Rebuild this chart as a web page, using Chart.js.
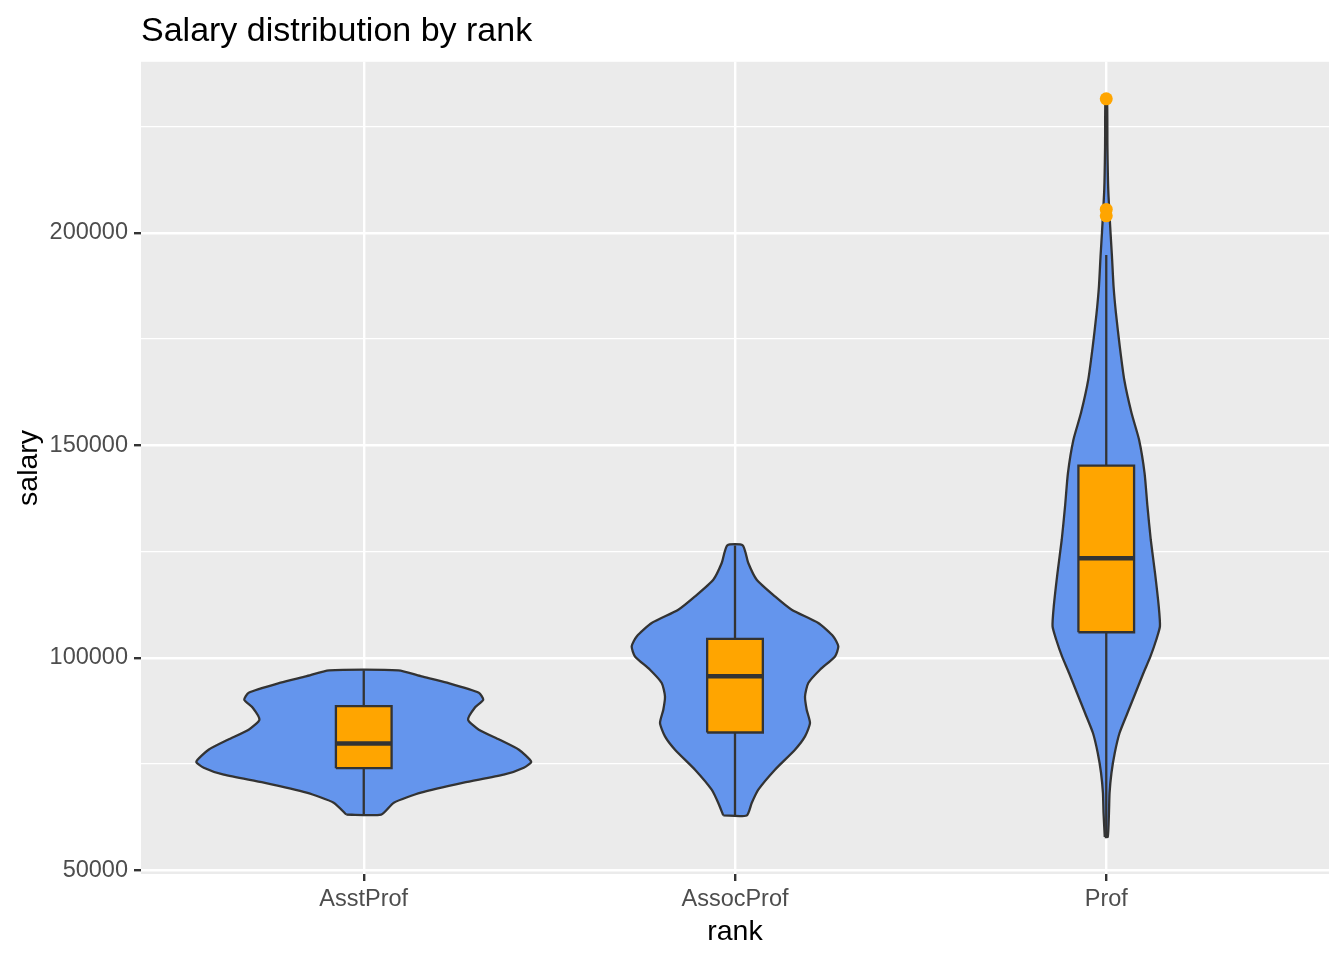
<!DOCTYPE html>
<html>
<head>
<meta charset="utf-8">
<script src="https://cdn.jsdelivr.net/npm/chart.js@4.4.1/dist/chart.umd.min.js"></script>
<style>
html,body{margin:0;padding:0;background:#ffffff;}
#wrap{width:1344px;height:960px;}
</style>
</head>
<body>
<div id="wrap"><canvas id="c" width="1344" height="960"></canvas></div>
<script>
// ---------- data ----------
const categories = ['AsstProf', 'AssocProf', 'Prof'];

// violin outlines: salary levels and half-widths (in category units)
const asstViolinSalary = [63100, 65882, 68235, 70588, 72471, 74118, 75529, 78353, 80706, 83059, 85412, 88235, 90118, 91765, 94118, 95600, 97032];
const asstViolinWidth  = [0.047, 0.081, 0.154, 0.269, 0.377, 0.431, 0.451, 0.418, 0.366, 0.310, 0.281, 0.299, 0.322, 0.310, 0.224, 0.156, 0.093];

const assocViolinSalary = [62884, 65812, 68941, 73647, 78353, 81482, 84635, 87765, 90894, 94047, 97176, 100306, 102659, 105012, 108165, 111294, 114424, 118353, 122282, 126431];
const assocViolinWidth  = [0.0315, 0.045, 0.0628, 0.1077, 0.1616, 0.1886, 0.202, 0.1931, 0.1886, 0.1974, 0.229, 0.2694, 0.2783, 0.2648, 0.2244, 0.1527, 0.1077, 0.0585, 0.0358, 0.0207];

const profViolinSalary = [57800, 63459, 68165, 72871, 77576, 82282, 86988, 91694, 96400, 100306, 104235, 107365, 112071, 119929, 127765, 135600, 143459, 151294, 157576, 165412, 173247, 181106, 187365, 194424, 199929, 210118, 220000, 231545];
const profViolinWidth  = [0.004, 0.0073, 0.0089, 0.014, 0.0229, 0.0358, 0.0571, 0.0787, 0.1002, 0.1191, 0.1347, 0.1446, 0.1414, 0.1314, 0.1199, 0.111, 0.1032, 0.0884, 0.0681, 0.0485, 0.0364, 0.0261, 0.0197, 0.0154, 0.0116, 0.0054, 0.0032, 0.0022];

// boxplot statistics
const whiskerLow  = [63100, 62884, 57800];
const boxQ1       = [74000, 82400, 106000];
const boxMedian   = [79800, 95626, 123400];
const boxQ3       = [88600, 104450, 145200];
const whiskerHigh = [97032, 126431, 194800];
const outlierRank   = [3, 3, 3];
const outlierSalary = [231545, 205500, 204000];

// axis ticks
const yMajorTicks = [50000, 100000, 150000, 200000];
const yMinorTicks = [75000, 125000, 175000, 225000];
const xTicks = [1, 2, 3];

// ---------- styling ----------
const FONT = "'Liberation Sans', Arial, Helvetica, sans-serif";
Chart.defaults.font.family = FONT;
const VIOLIN_FILL = '#6495ED';
const BOX_FILL = '#FFA500';
const LINE = '#333333';
const BOX_HALF = 0.075;
const OUT_W = 2.3;

const violinSalary = [asstViolinSalary, assocViolinSalary, profViolinSalary];
const violinWidth = [asstViolinWidth, assocViolinWidth, profViolinWidth];

const datasets = [];

categories.forEach((cat, i) => {
  const c = i + 1;
  const sal = violinSalary[i], wid = violinWidth[i];
  const left = sal.map((s, k) => ({x: c - wid[k], y: s}));
  const right = sal.map((s, k) => ({x: c + wid[k], y: s})).reverse();
  datasets.push({
    type: 'scatter', label: cat + ' violin', order: 5,
    data: left.concat(right, [left[0]]),
    showLine: true, fill: 'shape', tension: 0.2,
    backgroundColor: VIOLIN_FILL, borderColor: LINE, borderWidth: OUT_W,
    borderJoinStyle: 'round', pointRadius: 0, pointHoverRadius: 0
  });
  datasets.push({
    type: 'scatter', label: cat + ' whisker', order: 4,
    data: [{x: c, y: whiskerLow[i]}, {x: c, y: whiskerHigh[i]}],
    showLine: true, fill: false, tension: 0,
    borderColor: LINE, borderWidth: OUT_W, pointRadius: 0, pointHoverRadius: 0
  });
  datasets.push({
    type: 'scatter', label: cat + ' box', order: 3,
    data: [{x: c - BOX_HALF, y: boxQ1[i]}, {x: c + BOX_HALF, y: boxQ1[i]},
           {x: c + BOX_HALF, y: boxQ3[i]}, {x: c - BOX_HALF, y: boxQ3[i]},
           {x: c - BOX_HALF, y: boxQ1[i]}],
    showLine: true, fill: 'shape', tension: 0,
    backgroundColor: BOX_FILL, borderColor: LINE, borderWidth: OUT_W,
    borderJoinStyle: 'miter', pointRadius: 0, pointHoverRadius: 0
  });
  datasets.push({
    type: 'scatter', label: cat + ' median', order: 2,
    data: [{x: c - BOX_HALF, y: boxMedian[i]}, {x: c + BOX_HALF, y: boxMedian[i]}],
    showLine: true, fill: false, tension: 0,
    borderColor: LINE, borderWidth: 4.6, borderCapStyle: 'butt',
    pointRadius: 0, pointHoverRadius: 0
  });
});

datasets.push({
  type: 'scatter', label: 'outliers', order: 1,
  data: outlierRank.map((r, k) => ({x: r, y: outlierSalary[k]})),
  pointRadius: 6.5, pointHoverRadius: 6.5, pointStyle: 'circle',
  backgroundColor: BOX_FILL, borderWidth: 0
});

const panelBg = {
  id: 'panelBg',
  beforeDraw(chart) {
    const {ctx, chartArea: a} = chart;
    ctx.save();
    ctx.fillStyle = '#EBEBEB';
    ctx.fillRect(a.left, a.top, a.right - a.left, a.bottom - a.top);
    ctx.restore();
  }
};

const isMajorY = (ctx) => ctx.tick && yMajorTicks.includes(ctx.tick.value);

new Chart(document.getElementById('c'), {
  type: 'scatter',
  data: {datasets},
  plugins: [panelBg],
  options: {
    responsive: false,
    animation: false,
    devicePixelRatio: 1,
    layout: {padding: {left: 0, right: 15, top: 0, bottom: 0}},
    plugins: {
      legend: {display: false},
      tooltip: {enabled: false},
      title: {
        display: true, text: 'Salary distribution by rank',
        align: 'start', fullSize: false, color: '#000000',
        font: {family: FONT, size: 34, weight: 'normal'},
        padding: {top: 11, bottom: 10}
      }
    },
    scales: {
      x: {
        type: 'linear', min: 0.4, max: 3.6,
        afterBuildTicks: (s) => { s.ticks = xTicks.map(v => ({value: v})); },
        afterFit: (s) => { s.height = 86; },
        border: {display: false},
        grid: {color: '#FFFFFF', lineWidth: 2.4, tickColor: LINE, tickLength: 7, tickWidth: 2.4},
        ticks: {
          autoSkip: false, maxRotation: 0, color: '#4D4D4D', padding: 4,
          font: {family: FONT, size: 23.5},
          callback: (v) => categories[v - 1] !== undefined ? categories[v - 1] : ''
        },
        title: {display: true, text: 'rank', color: '#000000',
                font: {family: FONT, size: 28.5}, padding: {top: 0, bottom: 11}}
      },
      y: {
        type: 'linear', min: 49100, max: 240250,
        afterBuildTicks: (s) => {
          s.ticks = yMajorTicks.concat(yMinorTicks).sort((a, b) => a - b).map(v => ({value: v}));
        },
        afterFit: (s) => { s.width = 141; },
        border: {display: false},
        grid: {
          color: '#FFFFFF',
          lineWidth: (ctx) => isMajorY(ctx) ? 2.4 : 1.2,
          tickColor: (ctx) => isMajorY(ctx) ? LINE : 'rgba(0,0,0,0)',
          tickLength: 7, tickWidth: 2.4
        },
        ticks: {
          color: '#4D4D4D', padding: 6, autoSkip: false,
          font: {family: FONT, size: 23.5},
          callback: (v) => yMajorTicks.includes(v) ? String(v) : ''
        },
        title: {display: true, text: 'salary', color: '#000000',
                font: {family: FONT, size: 28.5}, padding: {top: 12, bottom: 0}}
      }
    }
  }
});
</script>
</body>
</html>
